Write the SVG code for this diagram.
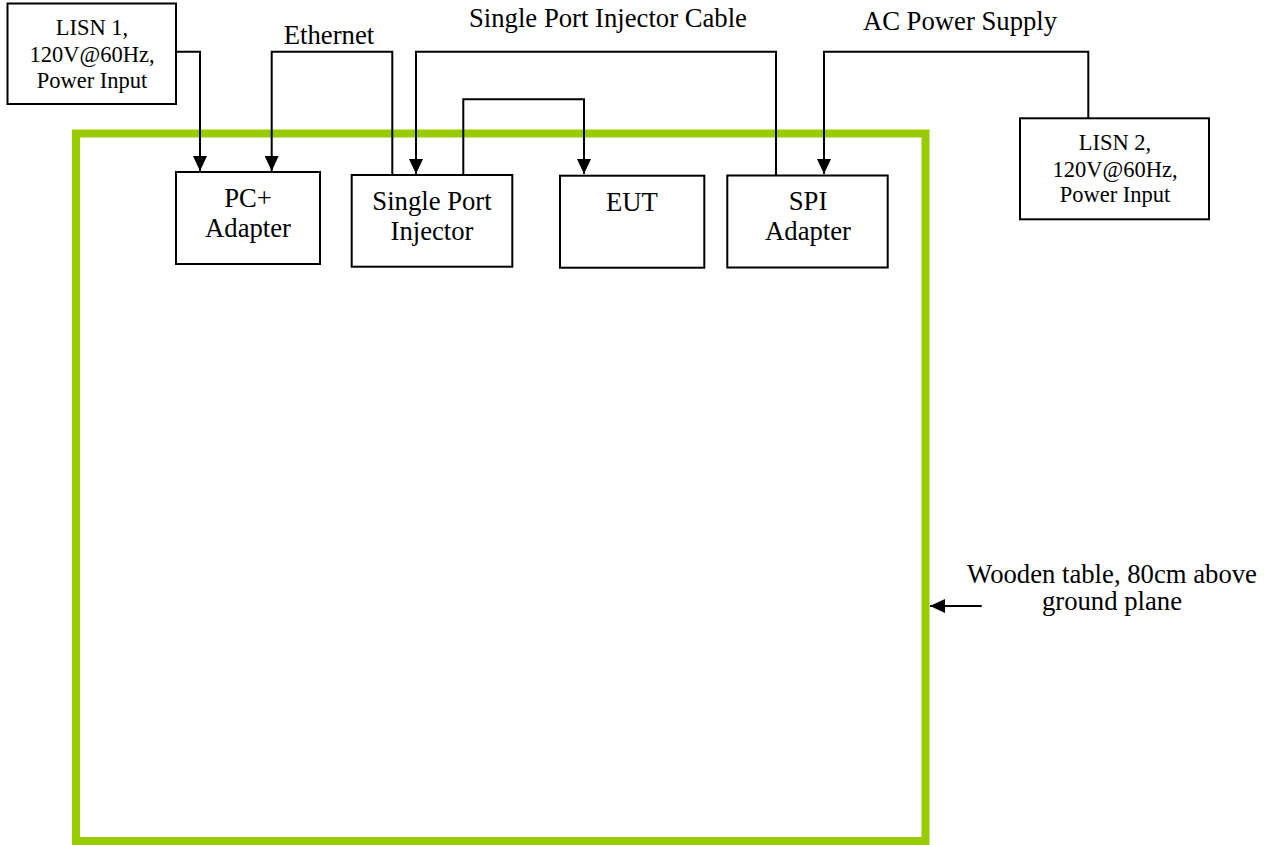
<svg xmlns="http://www.w3.org/2000/svg" width="1275" height="845" viewBox="0 0 1275 845">
<defs>
<style>
.box{fill:#fff;stroke:#000;stroke-width:2}
.t{font-family:"Liberation Serif","Times New Roman",serif;font-size:26.7px;fill:#000;text-anchor:middle}
.s{font-family:"Liberation Serif","Times New Roman",serif;font-size:22.5px;fill:#000;text-anchor:middle}
.c{fill:none;stroke:#000;stroke-width:2}
</style>
<marker id="ah" viewBox="0 0 15 14" refX="15" refY="7" markerWidth="15" markerHeight="14" orient="auto" markerUnits="userSpaceOnUse">
<path d="M0,0 L15,7 L0,14 Z" fill="#000"/>
</marker>
</defs>
<rect width="1275" height="845" fill="#fff"/>
<g id="table">
<rect x="76" y="133.5" width="849.5" height="707.5" fill="none" stroke="#99CC00" stroke-width="8"/>
</g>
<g id="labels">
<text class="t" x="329" y="44">Ethernet</text>
<text class="t" x="608" y="27">Single Port Injector Cable</text>
<text class="t" x="960" y="30">AC Power Supply</text>
<text class="t" x="1112" y="583">Wooden table, 80cm above</text>
<text class="t" x="1112" y="610">ground plane</text>
</g>
<g id="connectors">
<polyline class="c" points="176,51.7 200,51.7 200,171" marker-end="url(#ah)"/>
<polyline class="c" points="392.3,175 392.3,51.7 271.7,51.7 271.7,171" marker-end="url(#ah)"/>
<polyline class="c" points="776,175 776,51.7 416,51.7 416,174" marker-end="url(#ah)"/>
<polyline class="c" points="463.3,175 463.3,99.3 584,99.3 584,174" marker-end="url(#ah)"/>
<polyline class="c" points="1088.3,118 1088.3,51.7 824,51.7 824,174" marker-end="url(#ah)"/>
<line class="c" x1="981.7" y1="606" x2="930" y2="606" marker-end="url(#ah)"/>
</g>
<g id="lisn1">
<rect class="box" x="7.5" y="3.5" width="168.5" height="100.5"/>
<text class="s" x="92" y="35">LISN 1,</text>
<text class="s" x="92" y="61.5">120V@60Hz,</text>
<text class="s" x="92" y="87.5">Power Input</text>
</g>
<g id="pc-adapter">
<rect class="box" x="176" y="172" width="144" height="92"/>
<text class="t" x="248" y="207">PC+</text>
<text class="t" x="248" y="237">Adapter</text>
</g>
<g id="single-port-injector">
<rect class="box" x="351.7" y="175" width="160.6" height="91.7"/>
<text class="t" x="432" y="210">Single Port</text>
<text class="t" x="432" y="240">Injector</text>
</g>
<g id="eut">
<rect class="box" x="560" y="175.7" width="144.3" height="92"/>
<text class="t" x="632" y="210.7">EUT</text>
</g>
<g id="spi-adapter">
<rect class="box" x="727.3" y="175.5" width="160.4" height="92"/>
<text class="t" x="808" y="210">SPI</text>
<text class="t" x="808" y="240">Adapter</text>
</g>
<g id="lisn2">
<rect class="box" x="1020" y="118.3" width="189" height="101"/>
<text class="s" x="1115" y="150">LISN 2,</text>
<text class="s" x="1115" y="177">120V@60Hz,</text>
<text class="s" x="1115" y="202">Power Input</text>
</g>
</svg>
